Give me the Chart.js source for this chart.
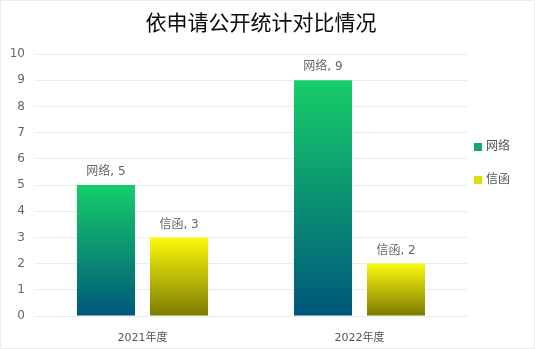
<!DOCTYPE html>
<html>
<head>
<meta charset="utf-8">
<script src="https://cdn.jsdelivr.net/npm/chart.js@4"></script>
<style>
    html, body { margin: 0; padding: 0; background: #fff; }
    #wrap { position: relative; width: 535px; height: 349px; }
    #frame { position: absolute; left: 0; top: 0; width: 533px; height: 347px; border: 1px solid #ececec; pointer-events: none; }
</style>
</head>
<body>
<div id="wrap">
    <canvas id="compareChart" width="535" height="349"></canvas>
    <div id="frame"></div>
</div>
<script>
const categories = ["2021年度", "2022年度"];
const seriesNames = ["网络", "信函"];
const networkValues = [5, 9];
const letterValues = [3, 2];
const yTicks = [0, 1, 2, 3, 4, 5, 6, 7, 8, 9, 10];
const chartTitle = "依申请公开统计对比情况";

const FONT = 'DejaVu Sans, "Noto Sans CJK SC", sans-serif';
const gradientStops = [
    ["#16ce69", "#00567b"],
    ["#fcfa0c", "#7c7a00"]
];
const legendColors = ["#12a870", "#e0dd08"];

function barGradient(context) {
    const chart = context.chart;
    const yScale = chart.scales.y;
    const stops = gradientStops[context.datasetIndex];
    if (!yScale || context.raw === undefined) {
        return stops[0];
    }
    const top = yScale.getPixelForValue(context.raw);
    const bottom = yScale.getPixelForValue(0);
    if (!isFinite(top) || !isFinite(bottom) || top === bottom) {
        return stops[0];
    }
    const grad = chart.ctx.createLinearGradient(0, top, 0, bottom);
    grad.addColorStop(0, stops[0]);
    grad.addColorStop(1, stops[1]);
    return grad;
}

// label above each bar, "series, value"
const barLabels = {
    id: "barLabels",
    afterDatasetsDraw(chart) {
        const ctx = chart.ctx;
        ctx.save();
        ctx.font = "12px " + FONT;
        ctx.fillStyle = "#666";
        ctx.textAlign = "center";
        ctx.textBaseline = "bottom";
        chart.data.datasets.forEach((ds, i) => {
            chart.getDatasetMeta(i).data.forEach((bar, j) => {
                ctx.fillText(ds.label + ", " + ds.data[j], bar.x, bar.y - 7);
            });
        });
        ctx.restore();
    }
};

// title + legend on the right
const headerAndLegend = {
    id: "headerAndLegend",
    afterDraw(chart) {
        const ctx = chart.ctx;
        ctx.save();
        ctx.font = "21px " + FONT;
        ctx.fillStyle = "#0a0a0a";
        ctx.textAlign = "center";
        ctx.textBaseline = "middle";
        ctx.fillText(chartTitle, 261, 25);

        ctx.font = "12px " + FONT;
        ctx.textAlign = "left";
        chart.data.datasets.forEach((ds, i) => {
            const y = 147 + i * 33;
            ctx.fillStyle = legendColors[i];
            ctx.fillRect(474, y - 4, 8, 8);
            ctx.fillStyle = "#555";
            ctx.fillText(ds.label, 486, y);
        });
        ctx.restore();
    }
};

const ctx = document.getElementById("compareChart").getContext("2d");
const compareChart = new Chart(ctx, {
    type: "bar",
    data: {
        labels: categories,
        datasets: [
            {
                label: seriesNames[0],
                data: networkValues,
                backgroundColor: barGradient
            },
            {
                label: seriesNames[1],
                data: letterValues,
                backgroundColor: barGradient
            }
        ]
    },
    options: {
        responsive: false,
        animation: false,
        devicePixelRatio: 1,
        layout: {
            padding: { left: 0, right: 67, top: 54, bottom: 0 }
        },
        categoryPercentage: 0.673,
        barPercentage: 0.795,
        scales: {
            x: {
                grid: { display: false },
                border: { display: false },
                ticks: {
                    color: "#555",
                    font: { family: FONT, size: 11 },
                    padding: 8
                },
                afterFit(scale) { scale.height = 33; }
            },
            y: {
                min: 0,
                max: 10,
                afterBuildTicks(scale) {
                    scale.ticks = yTicks.map(v => ({ value: v }));
                },
                grid: { color: "#ececec", drawTicks: false },
                border: { display: false },
                ticks: {
                    color: "#666",
                    font: { family: FONT, size: 12 },
                    padding: 9
                },
                afterFit(scale) { scale.width = 34; }
            }
        },
        plugins: {
            legend: { display: false },
            tooltip: { enabled: false },
            title: { display: false }
        }
    },
    plugins: [barLabels, headerAndLegend]
});
</script>
</body>
</html>
